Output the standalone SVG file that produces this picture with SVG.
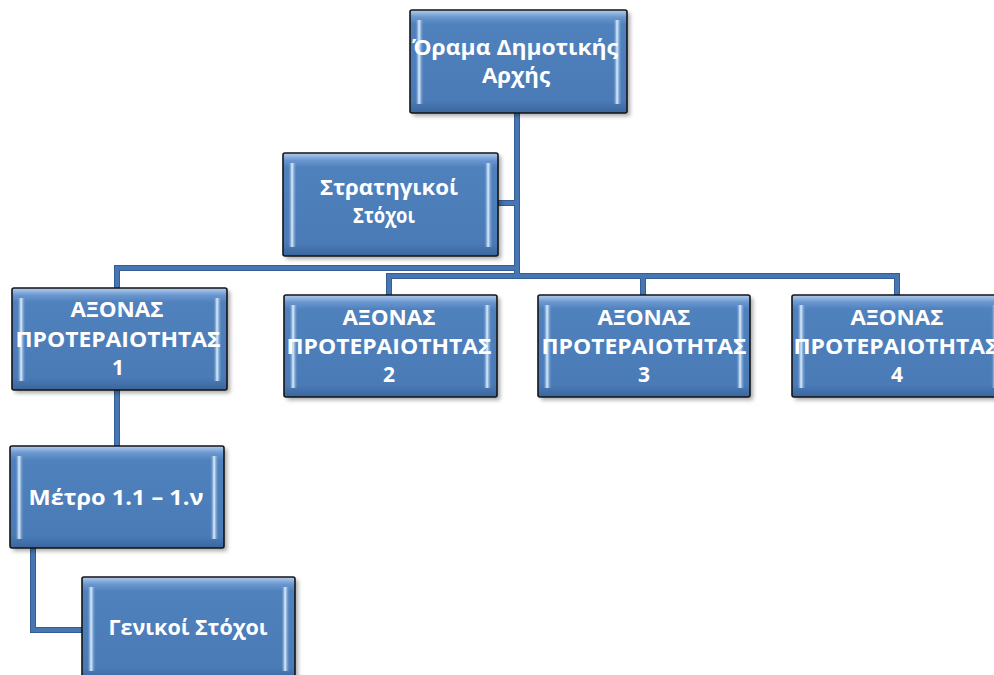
<svg xmlns="http://www.w3.org/2000/svg" width="994" height="675" viewBox="0 0 994 675">
<defs>
<linearGradient id="gFrame" x1="0" y1="0" x2="0" y2="1">
<stop offset="0" stop-color="#b3cdee"/>
<stop offset="0.07" stop-color="#6a97cf"/>
<stop offset="0.14" stop-color="#4f81bd"/>
<stop offset="0.88" stop-color="#4a7bb7"/>
<stop offset="1" stop-color="#3a659c"/>
</linearGradient>
<linearGradient id="gHlL" x1="0" y1="0" x2="1" y2="0">
<stop offset="0" stop-color="#4f81bd" stop-opacity="0"/>
<stop offset="0.45" stop-color="#e2f2ff"/>
<stop offset="1" stop-color="#4f81bd" stop-opacity="0"/>
</linearGradient>
<filter id="fSh" x="-10%" y="-10%" width="130%" height="130%">
<feGaussianBlur stdDeviation="2"/>
</filter>
<style>
.sh{fill:#000;opacity:0.35;filter:url(#fSh)}
.box{fill:url(#gFrame);stroke:#151515;stroke-width:1.6}
.hl{fill:url(#gHlL)}
.t{fill:#fff;font-family:"Open Sans","Liberation Sans",sans-serif;font-weight:bold;font-size:21px;text-anchor:middle}
.con path{fill:none;stroke:#4677b2;stroke-width:4.5;stroke-linejoin:miter}
.con .edge{stroke:#2f5688;stroke-width:6}
</style>
</defs>
<rect width="994" height="675" fill="#fff"/>

<g class="con" id="connectors">
<path class="edge" d="M517,113 V276 M498,203 H517 M117,288 V268 H517 M389,295 V276 H897 V295 M643,295 V276 M117,390 V446 M33,548 V630 H82"/>
<path d="M517,113 V276 M498,203 H517 M117,288 V268 H517 M389,295 V276 H897 V295 M643,295 V276 M117,390 V446 M33,548 V630 H82"/>
</g>

<g id="n_orama">
<rect class="sh" x="413" y="13" width="217" height="103"/>
<rect class="box" x="410" y="10" width="217" height="103" rx="2"/>
<rect class="hl" x="415" y="20" width="9" height="84"/>
<rect class="hl" x="613" y="20" width="9" height="84"/>
<text class="t" x="515" y="55" textLength="206" lengthAdjust="spacingAndGlyphs">Όραμα Δημοτικής</text>
<text class="t" x="516" y="83" textLength="68" lengthAdjust="spacingAndGlyphs">Αρχής</text>
</g>

<g id="n_strat">
<rect class="sh" x="286" y="156" width="215" height="103"/>
<rect class="box" x="283" y="153" width="215" height="103" rx="2"/>
<rect class="hl" x="288" y="163" width="9" height="84"/>
<rect class="hl" x="484" y="163" width="9" height="84"/>
<text class="t" x="389" y="195" textLength="138" lengthAdjust="spacingAndGlyphs">Στρατηγικοί</text>
<text class="t" x="384" y="223" textLength="62" lengthAdjust="spacingAndGlyphs">Στόχοι</text>
</g>

<g id="n_ax1">
<rect class="sh" x="15" y="291" width="215" height="102"/>
<rect class="box" x="12" y="288" width="215" height="102" rx="2"/>
<rect class="hl" x="17" y="298" width="9" height="83"/>
<rect class="hl" x="213" y="298" width="9" height="83"/>
<text class="t" x="117" y="317" textLength="93" lengthAdjust="spacingAndGlyphs">ΑΞΟΝΑΣ</text>
<text class="t" x="118" y="347" textLength="205" lengthAdjust="spacingAndGlyphs">ΠΡΟΤΕΡΑΙΟΤΗΤΑΣ</text>
<text class="t" x="118" y="375">1</text>
</g>

<g id="n_ax2">
<rect class="sh" x="287" y="298" width="213" height="102"/>
<rect class="box" x="284" y="295" width="213" height="102" rx="2"/>
<rect class="hl" x="289" y="305" width="9" height="83"/>
<rect class="hl" x="483" y="305" width="9" height="83"/>
<text class="t" x="389" y="325" textLength="93" lengthAdjust="spacingAndGlyphs">ΑΞΟΝΑΣ</text>
<text class="t" x="389" y="354" textLength="205" lengthAdjust="spacingAndGlyphs">ΠΡΟΤΕΡΑΙΟΤΗΤΑΣ</text>
<text class="t" x="389" y="382">2</text>
</g>

<g id="n_ax3">
<rect class="sh" x="541" y="298" width="212" height="102"/>
<rect class="box" x="538" y="295" width="212" height="102" rx="2"/>
<rect class="hl" x="543" y="305" width="9" height="83"/>
<rect class="hl" x="736" y="305" width="9" height="83"/>
<text class="t" x="644" y="325" textLength="93" lengthAdjust="spacingAndGlyphs">ΑΞΟΝΑΣ</text>
<text class="t" x="644" y="354" textLength="205" lengthAdjust="spacingAndGlyphs">ΠΡΟΤΕΡΑΙΟΤΗΤΑΣ</text>
<text class="t" x="644" y="382">3</text>
</g>

<g id="n_ax4">
<rect class="sh" x="795" y="298" width="213" height="102"/>
<rect class="box" x="792" y="295" width="213" height="102" rx="2"/>
<rect class="hl" x="797" y="305" width="9" height="83"/>
<rect class="hl" x="991" y="305" width="9" height="83"/>
<text class="t" x="897" y="325" textLength="93" lengthAdjust="spacingAndGlyphs">ΑΞΟΝΑΣ</text>
<text class="t" x="896" y="354" textLength="205" lengthAdjust="spacingAndGlyphs">ΠΡΟΤΕΡΑΙΟΤΗΤΑΣ</text>
<text class="t" x="897" y="382">4</text>
</g>

<g id="n_metro">
<rect class="sh" x="13" y="449" width="214" height="102"/>
<rect class="box" x="10" y="446" width="214" height="102" rx="2"/>
<rect class="hl" x="15" y="456" width="9" height="83"/>
<rect class="hl" x="210" y="456" width="9" height="83"/>
<text class="t" x="116" y="505" textLength="175" lengthAdjust="spacingAndGlyphs">Μέτρο 1.1 – 1.ν</text>
</g>

<g id="n_genikoi">
<rect class="sh" x="85" y="580" width="213" height="103"/>
<rect class="box" x="82" y="577" width="213" height="103" rx="2"/>
<rect class="hl" x="87" y="587" width="9" height="84"/>
<rect class="hl" x="281" y="587" width="9" height="84"/>
<text class="t" x="188" y="635" textLength="159" lengthAdjust="spacingAndGlyphs">Γενικοί Στόχοι</text>
</g>
</svg>
